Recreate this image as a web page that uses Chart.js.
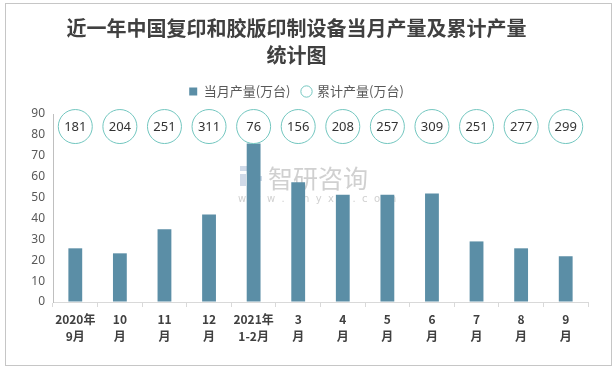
<!DOCTYPE html>
<html>
<head>
<meta charset="utf-8">
<script src="https://cdn.jsdelivr.net/npm/chart.js@4.4.1/dist/chart.umd.min.js"></script>
<style>
  html, body { margin: 0; padding: 0; background: #fff; }
  #wrap { position: relative; width: 616px; height: 368px; }
  #frame { position: absolute; left: 5px; top: 3px; width: 605px; height: 361px; border: 1px solid #c6c6c6; pointer-events: none; }
</style>
</head>
<body>
<div id="wrap">
  <canvas id="chart" width="616" height="368"></canvas>
  <div id="frame"></div>
</div>
<script>
// categories (two-line tick labels)
const months = [
  ['2020年', '9月'], ['10', '月'], ['11', '月'], ['12', '月'],
  ['2021年', '1-2月'], ['3', '月'], ['4', '月'], ['5', '月'],
  ['6', '月'], ['7', '月'], ['8', '月'], ['9', '月']
];
// 当月产量(万台)
const monthly = [25.7, 23.3, 34.8, 41.9, 75.9, 57.3, 51.4, 51.4, 51.9, 29.0, 25.7, 21.9];
// 累计产量(万台), shown inside the circles
const cumulative = [181, 204, 251, 311, 76, 156, 208, 257, 309, 251, 277, 299];
// the circles sit on one row near the top of the value axis
const circleLevel = 84;
const yMax = 90, yStep = 10;

const cumLabels = {
  id: 'cumLabels',
  afterDatasetsDraw(chart) {
    const meta = chart.getDatasetMeta(1);
    const ctx = chart.ctx;
    ctx.save();
    ctx.font = '13px "Noto Sans", "DejaVu Sans", sans-serif';
    ctx.fillStyle = '#333333';
    ctx.textAlign = 'center';
    ctx.textBaseline = 'middle';
    meta.data.forEach((pt, i) => {
      ctx.fillText(String(cumulative[i]), pt.x, pt.y + 1);
    });
    ctx.restore();
  }
};

// a bit more room under the legend
const legendGap = {
  id: 'legendGap',
  afterInit(chart) {
    const fit = chart.legend.fit;
    chart.legend.fit = function () {
      fit.call(this);
      this.height += 6;
    };
  }
};

// faint watermark behind the bars
const watermark = {
  id: 'watermark',
  beforeDatasetsDraw(chart) {
    const ctx = chart.ctx;
    ctx.save();
    ctx.fillStyle = 'rgba(170,170,170,0.55)';
    ctx.textBaseline = 'alphabetic';
    ctx.textAlign = 'left';
    ctx.font = '25px "Noto Sans CJK SC", sans-serif';
    ctx.fillText('智研咨询', 268, 188);
    ctx.font = '10px "DejaVu Sans", sans-serif';
    ctx.fillText('w  w  w  .  c  h  y  x  x  .  c  o  m', 238, 202);
    ctx.fillStyle = 'rgba(120,150,190,0.35)';
    ctx.fillRect(240, 166, 20, 5);
    ctx.fillRect(240, 174, 6, 12);
    ctx.fillRect(250, 176, 12, 5);
    ctx.restore();
  }
};

new Chart(document.getElementById('chart'), {
  type: 'bar',
  data: {
    labels: months,
    datasets: [
      {
        label: '当月产量(万台)',
        data: monthly,
        backgroundColor: '#5b8ea6',
        pointStyle: 'rect',
        barPercentage: 0.62,
        categoryPercentage: 0.5,
        order: 1
      },
      {
        type: 'line',
        label: '累计产量(万台)',
        data: months.map(() => circleLevel),
        showLine: false,
        pointStyle: 'circle',
        pointRadius: 17,
        pointHoverRadius: 17,
        pointBackgroundColor: '#ffffff',
        pointBorderColor: '#72c6bf',
        pointBorderWidth: 1,
        borderColor: '#72c6bf',
        backgroundColor: '#ffffff',
        clip: false,
        order: 0
      }
    ]
  },
  options: {
    responsive: false,
    animation: false,
    layout: { padding: { top: 3, left: 5, right: 28, bottom: 0 } },
    plugins: {
      title: {
        display: true,
        text: ['近一年中国复印和胶版印制设备当月产量及累计产量', '统计图'],
        color: '#404040',
        font: { family: '"Noto Sans CJK SC", sans-serif', size: 20, weight: 'bold', lineHeight: 1.35 },
        padding: { top: 12, bottom: 4 }
      },
      legend: {
        position: 'top',
        labels: {
          usePointStyle: true,
          boxWidth: 8,
          boxHeight: 8,
          color: '#595959',
          font: { family: '"Noto Sans CJK SC", sans-serif', size: 13 },
          padding: 12,
          sort: (a, b) => a.datasetIndex - b.datasetIndex
        }
      },
      tooltip: { enabled: false }
    },
    scales: {
      x: {
        grid: { drawOnChartArea: false, drawTicks: true, tickLength: 5, color: '#d9d9d9', offset: true },
        border: { color: '#d9d9d9' },
        ticks: {
          color: '#404040',
          padding: 4,
          autoSkip: false,
          maxRotation: 0,
          font: { family: '"Noto Sans CJK SC", sans-serif', size: 12, weight: 'bold', lineHeight: 1.4 }
        },
        afterFit(s) { s.height = 66; }
      },
      y: {
        min: 0,
        max: yMax,
        ticks: {
          stepSize: yStep,
          color: '#595959',
          padding: 8,
          font: { family: '"Noto Sans", sans-serif', size: 12 }
        },
        grid: { drawOnChartArea: false, drawTicks: false },
        border: { color: '#bfbfbf' },
        afterFit(s) { s.width = 48; }
      }
    }
  },
  plugins: [watermark, cumLabels, legendGap]
});
</script>
</body>
</html>
